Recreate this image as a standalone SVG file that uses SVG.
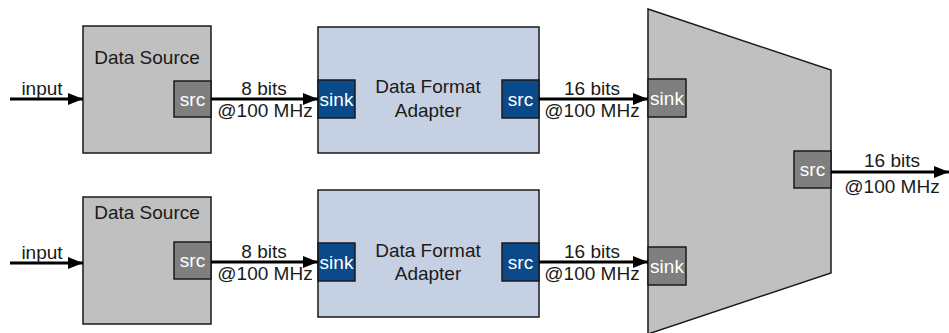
<svg xmlns="http://www.w3.org/2000/svg" width="949" height="333" viewBox="0 0 949 333">
<style>
text{font-family:"Liberation Sans",Arial,sans-serif;font-size:19px;fill:#1a1a1a}
.gray{fill:#c0c0c0;stroke:#1a1a1a;stroke-width:1.5}
.blue{fill:#c5d0e3;stroke:#1a1a1a;stroke-width:1.5}
.gport{fill:#7f7f7f;stroke:#1a1a1a;stroke-width:1.5}
.bport{fill:#0b4a8a;stroke:#1a1a1a;stroke-width:1.5}
.pt{fill:#fff;text-anchor:middle}
.c{text-anchor:middle}
.wire{stroke:#000;stroke-width:3;fill:none;marker-end:url(#ah)}
</style>
<defs>
<marker id="ah" markerWidth="5" markerHeight="4" refX="5" refY="2" orient="auto" markerUnits="strokeWidth">
<path d="M0,0 L5,2 L0,4 Z" fill="#000"/>
</marker>
</defs>
<g id="source1">
<rect class="gray" x="83" y="26" width="128" height="127"/>
<text class="c" x="147" y="64">Data Source</text>
<rect class="gport" x="174" y="81" width="37" height="36"/>
<text class="pt" x="192.5" y="105.5">src</text>
</g>
<g id="source2">
<rect class="gray" x="83" y="197" width="128" height="127"/>
<text class="c" x="147" y="219">Data Source</text>
<rect class="gport" x="174" y="242" width="37" height="37"/>
<text class="pt" x="192.5" y="267">src</text>
</g>
<g id="adapter1">
<rect class="blue" x="318" y="27" width="221" height="126"/>
<text class="c" x="428" y="93">Data Format</text>
<text class="c" x="428" y="117">Adapter</text>
<rect class="bport" x="318" y="80" width="37" height="38"/>
<text class="pt" x="336.5" y="105.5">sink</text>
<rect class="bport" x="502" y="80" width="37" height="38"/>
<text class="pt" x="520.5" y="105.5">src</text>
</g>
<g id="adapter2">
<rect class="blue" x="318" y="190" width="221" height="127"/>
<text class="c" x="428" y="257">Data Format</text>
<text class="c" x="428" y="280">Adapter</text>
<rect class="bport" x="318" y="243" width="37" height="38"/>
<text class="pt" x="336.5" y="268.5">sink</text>
<rect class="bport" x="502" y="243" width="37" height="38"/>
<text class="pt" x="520.5" y="268.5">src</text>
</g>
<g id="mux">
<polygon class="gray" points="648,9 831,70 831,273 648,334"/>
<rect class="gport" x="648" y="79" width="38" height="38"/>
<text class="pt" x="667" y="104.5">sink</text>
<rect class="gport" x="648" y="247" width="38" height="38"/>
<text class="pt" x="667" y="272.5">sink</text>
<rect class="gport" x="794" y="151" width="37" height="37"/>
<text class="pt" x="812.5" y="176">src</text>
</g>
<g id="connectors">
<line class="wire" x1="10" y1="99" x2="83" y2="99"/>
<text class="c" x="42" y="95">input</text>
<line class="wire" x1="10" y1="263" x2="83" y2="263"/>
<text class="c" x="42" y="259">input</text>
<line class="wire" x1="211" y1="99" x2="318" y2="99"/>
<text class="c" x="264" y="95">8 bits</text>
<text class="c" x="265" y="117">@100 MHz</text>
<line class="wire" x1="211" y1="262" x2="318" y2="262"/>
<text class="c" x="264" y="258">8 bits</text>
<text class="c" x="265" y="280">@100 MHz</text>
<line class="wire" x1="539" y1="99" x2="648" y2="99"/>
<text class="c" x="592" y="95">16 bits</text>
<text class="c" x="592" y="117">@100 MHz</text>
<line class="wire" x1="539" y1="262" x2="648" y2="262"/>
<text class="c" x="592" y="258">16 bits</text>
<text class="c" x="592" y="280">@100 MHz</text>
<line class="wire" x1="831" y1="172" x2="949" y2="172"/>
<text class="c" x="892" y="167">16 bits</text>
<text class="c" x="892" y="193">@100 MHz</text>
</g>
</svg>
